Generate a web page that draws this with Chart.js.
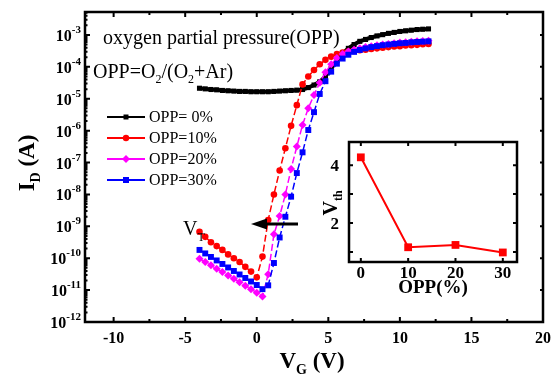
<!DOCTYPE html>
<html>
<head>
<meta charset="utf-8">
<script src="https://cdn.jsdelivr.net/npm/chart.js@4.4.1/dist/chart.umd.min.js"></script>
<style>
  html, body { margin: 0; padding: 0; background: #fff; }
  #wrap { position: relative; width: 554px; height: 374px; }
  #main { position: absolute; left: 0; top: 0; }
  #inset { position: absolute; left: 318px; top: 135px; }
</style>
</head>
<body>
<div id="wrap">
  <canvas id="main" width="554" height="374"></canvas>
  <canvas id="inset" width="210" height="165"></canvas>
</div>
<script>
// gate voltage (V)
const vg = [-4, -3.6, -3.2, -2.8, -2.4, -2, -1.6, -1.2, -0.8, -0.4, 0,
  0.4, 0.8, 1.2, 1.6, 2, 2.4, 2.8, 3.2, 3.6, 4,
  4.4, 4.8, 5.2, 5.6, 6, 6.4, 6.8, 7.2, 7.6, 8,
  8.4, 8.8, 9.2, 9.6, 10, 10.4, 10.8, 11.2, 11.6, 12];

// log10 of drain current
const logId0 = [-4.67, -4.69, -4.71, -4.72, -4.74, -4.75, -4.76, -4.77, -4.77, -4.78, -4.78,
  -4.78, -4.78, -4.77, -4.76, -4.75, -4.74, -4.73, -4.71, -4.65, -4.57,
  -4.47, -4.3, -4.05, -3.8, -3.58, -3.42, -3.3, -3.2, -3.14, -3.08,
  -3.03, -2.99, -2.95, -2.92, -2.89, -2.87, -2.85, -2.83, -2.82, -2.81];
const logId10 = [-9.17, -9.33, -9.5, -9.62, -9.74, -9.88, -10.0, -10.12, -10.27, -10.42, -10.6,
  -9.95, -8.8, -8.0, -7.25, -6.55, -5.85, -5.2, -4.55, -4.3, -4.1,
  -3.92, -3.78, -3.68, -3.6, -3.55, -3.52, -3.5, -3.48, -3.46, -3.44,
  -3.42, -3.4, -3.38, -3.36, -3.35, -3.33, -3.32, -3.31, -3.29, -3.28];
const logId20 = [-10.02, -10.12, -10.22, -10.33, -10.43, -10.54, -10.64, -10.75, -10.86, -10.97, -11.08,
  -11.2, -10.5, -9.25, -8.68, -8.0, -7.2, -6.5, -5.82, -5.3, -4.88,
  -4.5, -4.17, -3.92, -3.72, -3.6, -3.52, -3.46, -3.42, -3.38, -3.35,
  -3.32, -3.3, -3.28, -3.26, -3.24, -3.23, -3.21, -3.2, -3.19, -3.18];
const logId30 = [-9.74, -9.85, -9.96, -10.07, -10.18, -10.29, -10.4, -10.51, -10.62, -10.73, -10.84,
  -10.97, -10.85, -10.15, -9.35, -8.7, -8.07, -7.33, -6.68, -5.98, -5.42,
  -4.85, -4.45, -4.15, -3.9, -3.74, -3.62, -3.53, -3.47, -3.42, -3.38,
  -3.35, -3.32, -3.3, -3.28, -3.26, -3.25, -3.23, -3.22, -3.21, -3.2];

const seriesNames = ['OPP= 0%', 'OPP=10%', 'OPP=20%', 'OPP=30%'];
const seriesColors = ['#000000', '#ff0000', '#ff00ff', '#0000ff'];

const xTickValues = [-10, -5, 0, 5, 10, 15, 20];
const yTickExps = [-3, -4, -5, -6, -7, -8, -9, -10, -11, -12];

// inset: threshold voltage vs OPP
const oppPct = [0, 10, 20, 30];
const vth = [4.27, 1.16, 1.24, 0.98];
const insetXTicks = [0, 10, 20, 30];
const insetYTicks = [2, 4];

const SERIF = '"Liberation Serif", "Times New Roman", serif';

function toPoints(logs) {
  return logs.map((e, i) => ({ x: vg[i], y: Math.pow(10, e) }));
}

// draw text made of pieces [text, font, dy]
function drawRich(ctx, x, y, parts, align) {
  let w = 0;
  parts.forEach(p => { ctx.font = p[1]; w += ctx.measureText(p[0]).width; });
  let cx = align === 'right' ? x - w : (align === 'center' ? x - w / 2 : x);
  ctx.textAlign = 'left';
  ctx.textBaseline = 'alphabetic';
  parts.forEach(p => {
    ctx.font = p[1];
    ctx.fillText(p[0], cx, y + (p[2] || 0));
    cx += ctx.measureText(p[0]).width;
  });
}

function marker(ctx, style, x, y, r, color) {
  ctx.fillStyle = color;
  ctx.beginPath();
  if (style === 'circle') {
    ctx.arc(x, y, r, 0, Math.PI * 2);
  } else if (style === 'rectRot') {
    ctx.moveTo(x, y - r); ctx.lineTo(x + r, y); ctx.lineTo(x, y + r); ctx.lineTo(x - r, y);
    ctx.closePath();
  } else {
    ctx.rect(x - r, y - r, 2 * r, 2 * r);
  }
  ctx.fill();
}

const mainDeco = {
  id: 'mainDeco',
  afterDraw(chart) {
    const { ctx, chartArea: a, scales: { x, y } } = chart;
    ctx.save();
    ctx.strokeStyle = '#000';
    ctx.fillStyle = '#000';

    // x ticks, top and bottom
    ctx.lineWidth = 2;
    ctx.beginPath();
    for (let v = -10; v <= 20; v += 2.5) {
      const px = x.getPixelForValue(v);
      const len = (v % 5 === 0) ? 5 : 3;
      ctx.moveTo(px, a.bottom); ctx.lineTo(px, a.bottom - len);
      ctx.moveTo(px, a.top); ctx.lineTo(px, a.top + len);
    }
    // y ticks, decades on both sides, minor on the left
    yTickExps.forEach(n => {
      const py = y.getPixelForValue(Math.pow(10, n));
      ctx.moveTo(a.left, py); ctx.lineTo(a.left + 5, py);
      ctx.moveTo(a.right, py); ctx.lineTo(a.right - 3, py);
      for (let k = 2; k <= 9; k++) {
        const v = k * Math.pow(10, n);
        if (v > y.max) break;
        const pm = y.getPixelForValue(v);
        ctx.moveTo(a.left, pm); ctx.lineTo(a.left + 2.5, pm);
      }
    });
    ctx.stroke();

    ctx.lineWidth = 2.5;
    ctx.strokeRect(a.left, a.top, a.right - a.left, a.bottom - a.top);

    // tick labels
    ctx.textAlign = 'center';
    ctx.textBaseline = 'alphabetic';
    ctx.font = 'bold 16px ' + SERIF;
    xTickValues.forEach(v => {
      ctx.fillText(String(v), x.getPixelForValue(v), 343);
    });
    yTickExps.forEach(n => {
      const py = y.getPixelForValue(Math.pow(10, n));
      drawRich(ctx, 81, py + 6, [['10', 'bold 16px ' + SERIF, 0], [String(n), 'bold 11px ' + SERIF, -8]], 'right');
    });

    // axis titles
    drawRich(ctx, 312, 368, [['V', 'bold 23px ' + SERIF, 0], ['G', 'bold 14px ' + SERIF, 6], [' (V)', 'bold 23px ' + SERIF, 0]], 'center');
    ctx.save();
    ctx.translate(34, 163);
    ctx.rotate(-Math.PI / 2);
    drawRich(ctx, 0, 0, [['I', 'bold 23px ' + SERIF, 0], ['D', 'bold 14px ' + SERIF, 6], [' (A)', 'bold 23px ' + SERIF, 0]], 'center');
    ctx.restore();

    // annotations
    ctx.font = '20px ' + SERIF;
    ctx.textAlign = 'left';
    ctx.fillText('oxygen partial pressure(OPP)', 103, 44);
    drawRich(ctx, 93, 78, [
      ['OPP=O', '20px ' + SERIF, 0], ['2', '12px ' + SERIF, 5],
      ['/(O', '20px ' + SERIF, 0], ['2', '12px ' + SERIF, 5],
      ['+Ar)', '20px ' + SERIF, 0]], 'left');
    drawRich(ctx, 183, 235, [['V', '20px ' + SERIF, 0], ['T', '12px ' + SERIF, 6]], 'left');

    // legend
    const styles = ['rect', 'circle', 'rectRot', 'rect'];
    const sizes = [2.5, 3.2, 4, 3];
    seriesNames.forEach((name, i) => {
      const cy = 117 + i * 21;
      ctx.strokeStyle = seriesColors[i];
      ctx.lineWidth = 2;
      ctx.beginPath(); ctx.moveTo(107, cy); ctx.lineTo(145, cy); ctx.stroke();
      marker(ctx, styles[i], 126, cy, sizes[i], seriesColors[i]);
      ctx.fillStyle = '#000';
      ctx.font = '16px ' + SERIF;
      ctx.textAlign = 'left';
      ctx.fillText(name, 149, cy + 5);
    });

    // arrow pointing to negative shift
    ctx.strokeStyle = '#000';
    ctx.fillStyle = '#000';
    ctx.lineWidth = 3;
    ctx.beginPath(); ctx.moveTo(298, 224); ctx.lineTo(264, 224); ctx.stroke();
    ctx.beginPath(); ctx.moveTo(251, 224); ctx.lineTo(267, 218.5); ctx.lineTo(267, 229.5); ctx.closePath(); ctx.fill();

    ctx.restore();
  }
};

const pointStyles = ['rect', 'circle', 'rectRot', 'rect'];
const pointRadii = [3.6, 3.3, 4, 4.2];
const logSeries = [logId0, logId10, logId20, logId30];

new Chart(document.getElementById('main'), {
  type: 'line',
  data: {
    datasets: logSeries.map((logs, i) => ({
      label: seriesNames[i],
      data: toPoints(logs),
      borderColor: seriesColors[i],
      backgroundColor: seriesColors[i],
      borderWidth: i === 0 ? 4 : 1.5,
      borderDash: i === 0 ? [] : [7, 3],
      pointStyle: pointStyles[i],
      pointRadius: pointRadii[i],
      pointBorderWidth: 0,
      pointBackgroundColor: seriesColors[i],
      order: 4 - i,
      tension: 0
    }))
  },
  options: {
    responsive: false,
    animation: false,
    layout: { padding: { top: 12, right: 11 } },
    plugins: { legend: { display: false }, tooltip: { enabled: false } },
    scales: {
      x: {
        type: 'linear', min: -12, max: 20,
        grid: { display: false }, border: { display: false },
        ticks: { display: false },
        afterFit: s => { s.height = 52; }
      },
      y: {
        type: 'logarithmic', min: 1e-12, max: 5.25e-3,
        grid: { display: false }, border: { display: false },
        ticks: { display: false },
        afterFit: s => { s.width = 85; }
      }
    }
  },
  plugins: [mainDeco]
});

const insetDeco = {
  id: 'insetDeco',
  afterDraw(chart) {
    const { ctx, chartArea: a, scales: { x, y } } = chart;
    ctx.save();
    ctx.strokeStyle = '#000';
    ctx.fillStyle = '#000';
    ctx.lineWidth = 2;
    ctx.beginPath();
    insetXTicks.forEach(v => {
      const px = x.getPixelForValue(v);
      ctx.moveTo(px, a.bottom); ctx.lineTo(px, a.bottom - 4);
      ctx.moveTo(px, a.top); ctx.lineTo(px, a.top + 4);
    });
    [1, 2, 3, 4].forEach(v => {
      const py = y.getPixelForValue(v);
      ctx.moveTo(a.left, py); ctx.lineTo(a.left + 4, py);
      ctx.moveTo(a.right, py); ctx.lineTo(a.right - 4, py);
    });
    ctx.stroke();
    ctx.lineWidth = 2.5;
    ctx.strokeRect(a.left, a.top, a.right - a.left, a.bottom - a.top);

    ctx.font = 'bold 17px ' + SERIF;
    ctx.textAlign = 'center';
    ctx.textBaseline = 'alphabetic';
    insetXTicks.forEach(v => ctx.fillText(String(v), x.getPixelForValue(v), 143));
    ctx.textAlign = 'right';
    insetYTicks.forEach(v => ctx.fillText(String(v), 21, y.getPixelForValue(v) + 6));

    ctx.font = 'bold 19px ' + SERIF;
    ctx.textAlign = 'center';
    ctx.fillText('OPP(%)', 115, 158);

    ctx.save();
    ctx.translate(19, 68);
    ctx.rotate(-Math.PI / 2);
    drawRich(ctx, 0, 0, [['V', 'bold 20px ' + SERIF, 0], ['th', 'bold 12px ' + SERIF, 5]], 'center');
    ctx.restore();
    ctx.restore();
  }
};

new Chart(document.getElementById('inset'), {
  type: 'line',
  data: {
    datasets: [{
      data: oppPct.map((v, i) => ({ x: v, y: vth[i] })),
      borderColor: '#ff0000',
      backgroundColor: '#ff0000',
      borderWidth: 2,
      pointStyle: 'rect',
      pointRadius: 5.5,
      pointBorderWidth: 0,
      tension: 0
    }]
  },
  options: {
    responsive: false,
    animation: false,
    layout: { padding: { top: 7, right: 11 } },
    plugins: { legend: { display: false }, tooltip: { enabled: false } },
    scales: {
      x: {
        type: 'linear', min: -2.5, max: 33,
        grid: { display: false }, border: { display: false },
        ticks: { display: false },
        afterFit: s => { s.height = 38; }
      },
      y: {
        type: 'linear', min: 0.65, max: 4.8,
        grid: { display: false }, border: { display: false },
        ticks: { display: false },
        afterFit: s => { s.width = 31; }
      }
    }
  },
  plugins: [insetDeco]
});
</script>
</body>
</html>
